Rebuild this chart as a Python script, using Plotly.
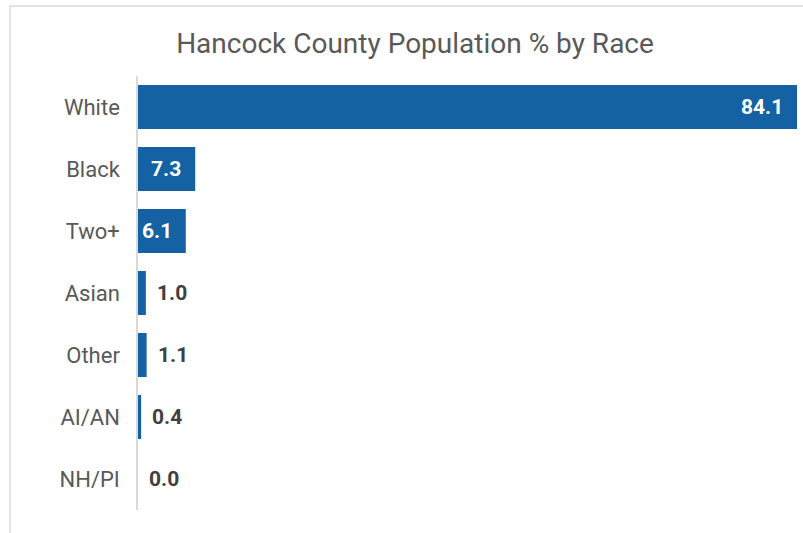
import plotly.graph_objects as go

categories = ["White", "Black", "Two+", "Asian", "Other", "AI/AN", "NH/PI"]
values = [84.1, 7.3, 6.1, 1.0, 1.1, 0.4, 0.0]
title_text = "Hancock County Population % by Race"

bar_color = "#1461A4"
gray = "#595959"
FONT = "Roboto"

fig = go.Figure(go.Bar(
    x=values, y=categories, orientation="h",
    marker=dict(color=bar_color, line=dict(width=0)),
    hoverinfo="skip",
))

annotations = []
for c, v in zip(categories, values):
    inside = v > 5
    annotations.append(dict(
        x=v, y=c, xref="x", yref="y",
        text=f"{v:.1f}", showarrow=False,
        xanchor="right" if inside else "left",
        xshift=-12 if inside else 9,
        font=dict(family=FONT, size=21, color="white" if inside else "#404040", weight="bold"),
    ))

fig.update_layout(
    width=803, height=533,
    margin=dict(l=138, r=6, t=76, b=23),
    paper_bgcolor="white", plot_bgcolor="white",
    bargap=0.29,
    showlegend=False,
    title=dict(text=title_text, x=415/803, xanchor="center", xref="container",
               y=1 - 43/533, yanchor="middle", yref="container",
               font=dict(family=FONT, size=28, color=gray)),
    xaxis=dict(range=[0, 84.1], visible=False, fixedrange=True),
    yaxis=dict(categoryorder="array", categoryarray=categories, autorange="reversed",
               showline=True, linecolor="#D9D9D9", linewidth=1.5,
               showgrid=False, zeroline=False, ticks="", ticklabelstandoff=12,
               tickfont=dict(family=FONT, size=22, color=gray)),
    annotations=annotations,
    shapes=[dict(type="rect", xref="paper", yref="paper",
                 x0=(10 - 138) / 659, x1=1.2, y0=-0.2, y1=(510 - 6) / 434,
                 line=dict(color="#D9D9D9", width=1.5), fillcolor="rgba(0,0,0,0)", layer="below")],
)

fig.write_html("out.html", config={"displayModeBar": False},
               post_script="document.body.style.margin='0';")
